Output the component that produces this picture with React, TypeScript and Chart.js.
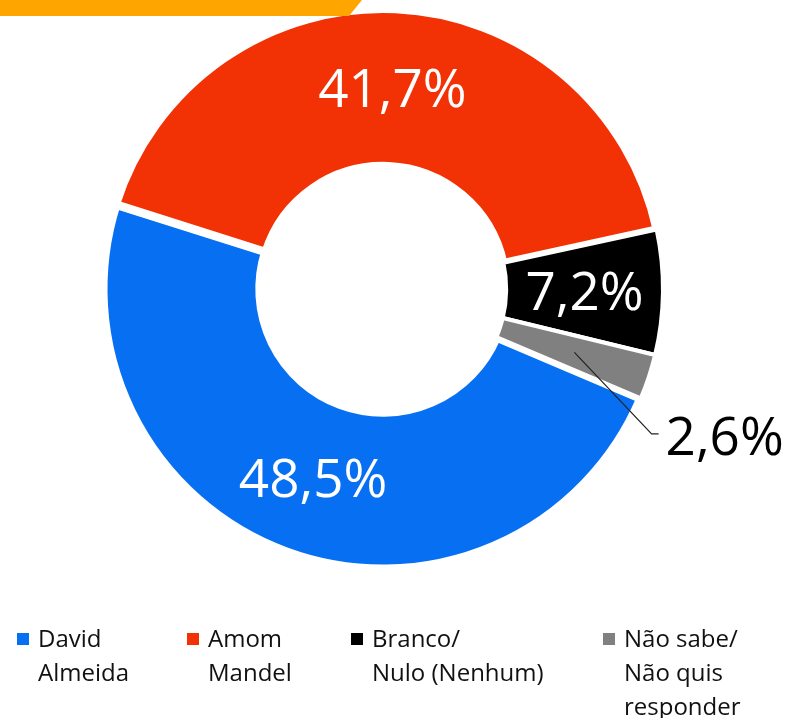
import React, { useEffect, useRef } from "react";
import { Chart, registerables } from "chart.js";

Chart.register(...registerables);

const categories = ["David Almeida", "Amom Mandel", "Branco/Nulo (Nenhum)", "Não sabe/Não quis responder"];
const legendLines = [["David", "Almeida"], ["Amom", "Mandel"], ["Branco/", "Nulo (Nenhum)"], ["Não sabe/", "Não quis", "responder"]];
const values = [48.5, 41.7, 7.2, 2.6];
const colors = ["#0770F2", "#F23205", "#000000", "#808080"];
const borderWidths = [9, 8, 4, 4];
const legendX = [17, 187, 351, 603];

const FONT = "'Open Sans', 'Noto Sans', sans-serif";
const fmt = (v: number) => v.toFixed(1).replace(".", ",") + "%";

const labelPlugin = {
  id: "sliceLabels",
  afterDatasetsDraw(chart: any) {
    const ctx = chart.ctx;
    const meta = chart.getDatasetMeta(0);
    const size = 53;
    ctx.save();
    ctx.font = `${size}px ${FONT}`;
    meta.data.forEach((arc: any, i: number) => {
      const { x, y, startAngle, endAngle, innerRadius, outerRadius } = arc.getProps(
        ["x", "y", "startAngle", "endAngle", "innerRadius", "outerRadius"],
        true
      );
      const mid = (startAngle + endAngle) / 2;
      const r = (innerRadius + outerRadius) / 2;
      const px = x + Math.cos(mid) * r;
      const py = y + Math.sin(mid) * r;
      const text = fmt(values[i]);
      if (i < 3) {
        ctx.fillStyle = "#FFFFFF";
        ctx.textAlign = "center";
        ctx.textBaseline = "alphabetic";
        ctx.fillText(text, px, py + size * 0.357);
      } else {
        const a2 = mid + 0.175;
        const r2 = outerRadius * 1.09;
        const ex = x + Math.cos(a2) * r2;
        const ey = y + Math.sin(a2) * r2;
        ctx.strokeStyle = "#222222";
        ctx.lineWidth = 1.2;
        ctx.beginPath();
        ctx.moveTo(px, py);
        ctx.lineTo(ex, ey);
        ctx.lineTo(ex + 7, ey);
        ctx.stroke();
        ctx.fillStyle = "#000000";
        ctx.textAlign = "left";
        ctx.textBaseline = "alphabetic";
        ctx.fillText(text, ex + 14, ey + 2 + size * 0.357);
      }
    });
    ctx.restore();
  },
};

export default function App() {
  const canvasRef = useRef<HTMLCanvasElement | null>(null);

  useEffect(() => {
    if (!canvasRef.current) return;
    const chart = new Chart(canvasRef.current, {
      type: "doughnut",
      data: {
        labels: categories,
        datasets: [
          {
            data: values,
            backgroundColor: colors,
            borderColor: "#FFFFFF",
            borderWidth: borderWidths,
          },
        ],
      },
      options: {
        animation: false,
        responsive: true,
        maintainAspectRatio: false,
        rotation: 113,
        cutout: "44%",
        radius: 280,
        layout: { padding: { left: 0, right: 21, top: 0, bottom: 140 } },
        plugins: {
          legend: { display: false },
          tooltip: { enabled: false },
          title: { display: false },
        },
      },
      plugins: [labelPlugin],
    });
    return () => chart.destroy();
  }, []);

  return (
    <div style={{ position: "fixed", left: 0, top: 0, width: 787, height: 718, background: "#FFFFFF", overflow: "hidden" }}>
      <canvas ref={canvasRef} style={{ position: "absolute", left: 0, top: 0 }} />
      <div
        style={{
          position: "absolute",
          left: 0,
          top: 0,
          width: 362,
          height: 16,
          background: "#FFA500",
          clipPath: "polygon(0 0, 362px 0, 349px 16px, 0 16px)",
          zIndex: 2,
        }}
      />
      {legendLines.map((lines, i) => (
        <div key={i} style={{ position: "absolute", left: legendX[i], top: 621, fontFamily: FONT, fontSize: 24, lineHeight: "34px", color: "#111111" }}>
          <div style={{ position: "absolute", left: 0, top: 12, width: 12, height: 12, background: colors[i] }} />
          <div style={{ position: "absolute", left: 21, top: 0, whiteSpace: "nowrap" }}>
            {lines.map((l, j) => (
              <div key={j}>{l}</div>
            ))}
          </div>
        </div>
      ))}
    </div>
  );
}
